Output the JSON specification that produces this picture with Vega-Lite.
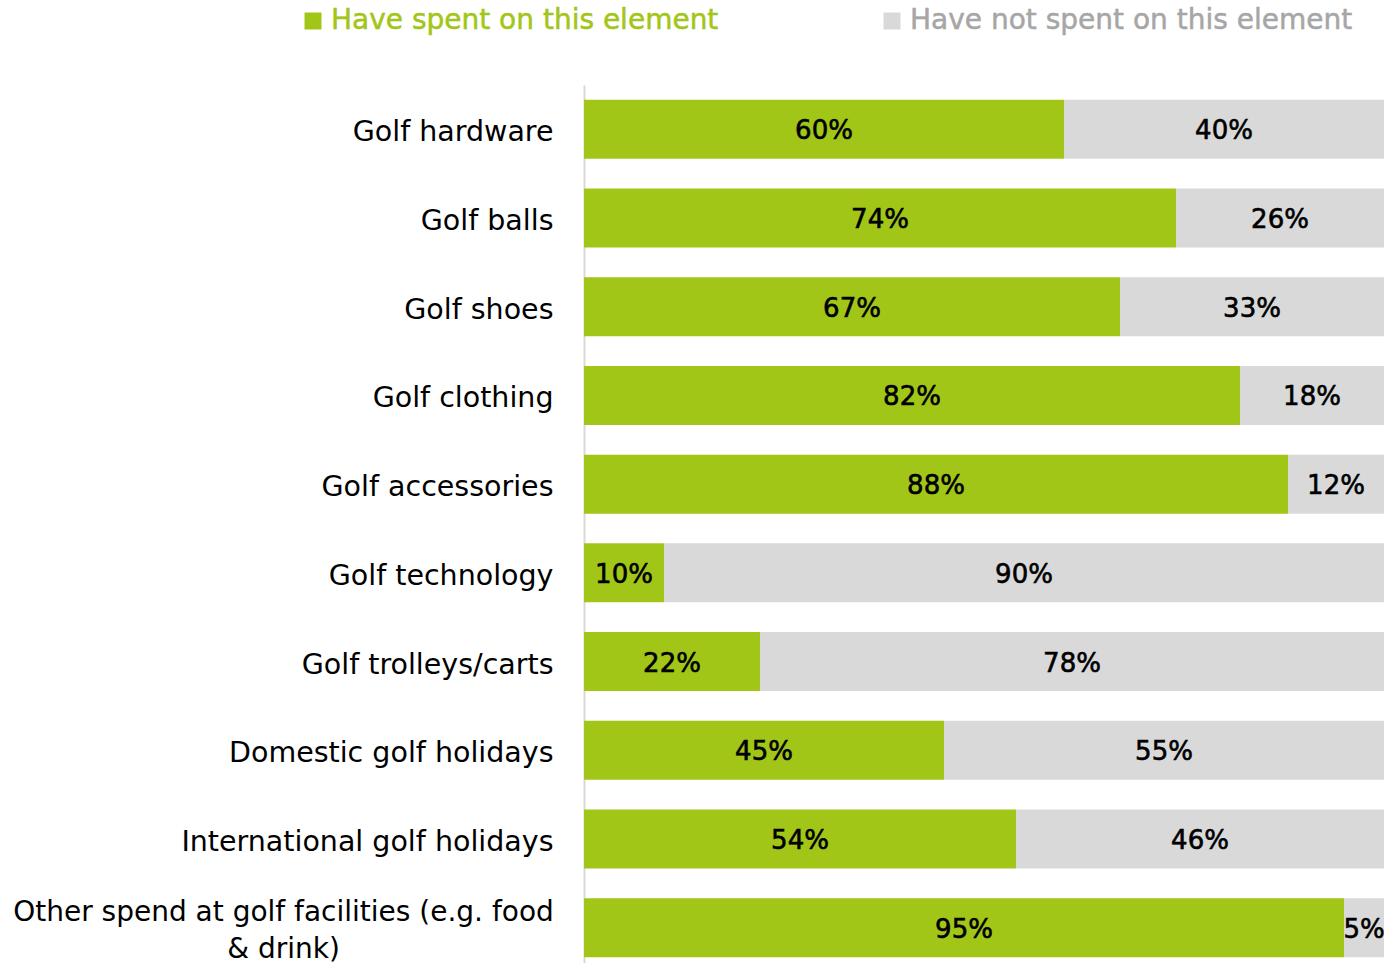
{
  "$schema": "https://vega.github.io/schema/vega-lite/v6.json",
  "width": 800,
  "height": 887,
  "autosize": {"type": "none"},
  "padding": {"left": 584, "top": 85, "right": 4, "bottom": 0},
  "background": "white",
  "config": {"view": {"stroke": null}, "font": "DejaVu Sans"},
  "data": {
    "values": [
      {"element": "Golf hardware", "status": "Have spent on this element", "share": 0.60},
      {"element": "Golf hardware", "status": "Have not spent on this element", "share": 0.40},
      {"element": "Golf balls", "status": "Have spent on this element", "share": 0.74},
      {"element": "Golf balls", "status": "Have not spent on this element", "share": 0.26},
      {"element": "Golf shoes", "status": "Have spent on this element", "share": 0.67},
      {"element": "Golf shoes", "status": "Have not spent on this element", "share": 0.33},
      {"element": "Golf clothing", "status": "Have spent on this element", "share": 0.82},
      {"element": "Golf clothing", "status": "Have not spent on this element", "share": 0.18},
      {"element": "Golf accessories", "status": "Have spent on this element", "share": 0.88},
      {"element": "Golf accessories", "status": "Have not spent on this element", "share": 0.12},
      {"element": "Golf technology", "status": "Have spent on this element", "share": 0.10},
      {"element": "Golf technology", "status": "Have not spent on this element", "share": 0.90},
      {"element": "Golf trolleys/carts", "status": "Have spent on this element", "share": 0.22},
      {"element": "Golf trolleys/carts", "status": "Have not spent on this element", "share": 0.78},
      {"element": "Domestic golf holidays", "status": "Have spent on this element", "share": 0.45},
      {"element": "Domestic golf holidays", "status": "Have not spent on this element", "share": 0.55},
      {"element": "International golf holidays", "status": "Have spent on this element", "share": 0.54},
      {"element": "International golf holidays", "status": "Have not spent on this element", "share": 0.46},
      {"element": "Other spend at golf facilities (e.g. food & drink)", "status": "Have spent on this element", "share": 0.95},
      {"element": "Other spend at golf facilities (e.g. food & drink)", "status": "Have not spent on this element", "share": 0.05}
    ]
  },
  "encoding": {
    "y": {
      "field": "element",
      "type": "nominal",
      "sort": null,
      "scale": {"paddingInner": 0.335, "paddingOuter": 0.1675},
      "axis": {
        "title": null,
        "ticks": false,
        "labelPadding": {"condition": {"test": "datum.value == 'Other spend at golf facilities (e.g. food & drink)'", "value": 301}, "value": 31},
        "labelAlign": {"condition": {"test": "datum.value == 'Other spend at golf facilities (e.g. food & drink)'", "value": "center"}, "value": "right"},
        "labelOffset": {"condition": {"test": "datum.value == 'Other spend at golf facilities (e.g. food & drink)'", "value": -15}, "value": 3},
        "labelFontSize": {"condition": {"test": "datum.value == 'Other spend at golf facilities (e.g. food & drink)'", "value": 28}, "value": 28.5},
        "labelFont": "DejaVu Sans",
        "labelColor": "#000000",
        "labelLimit": 1000,
        "labelLineHeight": 37,
        "domainColor": "#d9d9d9",
        "domainWidth": 2,
        "grid": false,
        "labelExpr": "datum.label == 'Other spend at golf facilities (e.g. food & drink)' ? ['Other spend at golf facilities (e.g. food', '& drink)'] : datum.label"
      }
    }
  },
  "layer": [
    {
      "mark": {"type": "bar"},
      "encoding": {
        "x": {"field": "share", "type": "quantitative", "stack": "zero", "scale": {"domain": [0, 1]}, "axis": null},
        "color": {
          "field": "status",
          "type": "nominal",
          "scale": {"domain": ["Have spent on this element", "Have not spent on this element"], "range": ["#a2c617", "#d9d9d9"]},
          "legend": {
            "title": null,
            "orient": "none",
            "legendX": -285,
            "legendY": -78,
            "direction": "horizontal",
            "columns": 2,
            "columnPadding": 159,
            "padding": 0,
            "symbolType": "square",
            "symbolSize": 289,
            "symbolStrokeWidth": 0,
            "symbolOpacity": 1,
            "labelFontSize": 28,
            "labelFont": "DejaVu Sans",
            "labelOffset": 4,
            "labelLimit": 1000,
            "encode": {
              "labels": {
                "update": {
                  "fill": {"signal": "datum.value == 'Have spent on this element' ? '#a2c617' : '#a6a6a6'"},
                  "stroke": {"signal": "datum.value == 'Have spent on this element' ? '#a2c617' : '#a6a6a6'"},
                  "strokeWidth": {"value": 0.5}
                }
              }
            }
          }
        },
        "order": {"field": "status", "sort": "descending"}
      }
    },
    {
      "mark": {"type": "text", "fontSize": 26, "font": "DejaVu Sans", "color": "#000000", "stroke": "#000000", "strokeWidth": 0.6, "align": "center", "baseline": "middle", "dy": 2},
      "encoding": {
        "x": {"field": "share", "type": "quantitative", "stack": "zero", "bandPosition": 0.5},
        "detail": {"field": "status"},
        "order": {"field": "status", "sort": "descending"},
        "text": {"field": "share", "type": "quantitative", "format": ".0%"}
      }
    }
  ]
}
